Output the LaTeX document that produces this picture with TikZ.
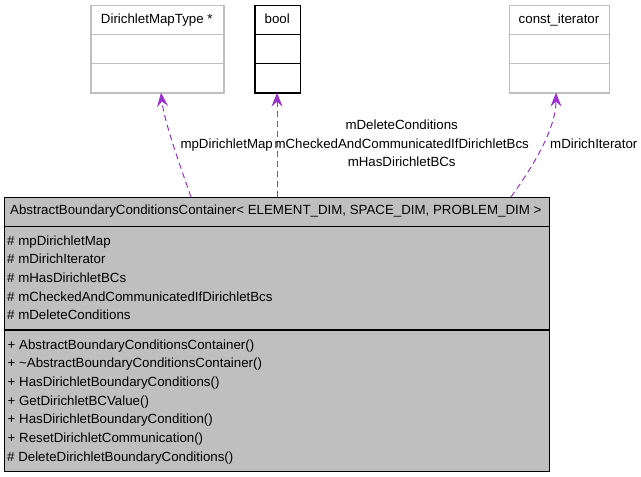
\documentclass[tikz,border=0pt]{standalone}
\usepackage{fontspec}
\setmainfont{Liberation Sans}
\usetikzlibrary{arrows.meta}
\definecolor{edgep}{HTML}{9A32CD}
\definecolor{fillgray}{HTML}{BFBFBF}
\definecolor{lightline}{HTML}{BFBFBF}
\begin{document}
\begin{tikzpicture}[x=1pt,y=-1pt,
  txt/.style={inner sep=0pt, font=\fontsize{13.3}{16}\selectfont},
  lightbox/.style={draw=lightline, line width=1.2pt, fill=white, inner sep=0pt, anchor=north west},
  darkbox/.style={draw=black, line width=1.4pt, fill=white, inner sep=0pt, anchor=north west},
  mainbox/.style={draw=black, line width=1.4pt, fill=fillgray, inner sep=0pt, anchor=north west},
  lightdiv/.style={draw=lightline, line width=1.2pt},
  darkdiv/.style={draw=black, line width=1.4pt},
  dep/.style={draw=edgep, line width=1pt, dash pattern=on 6pt off 4pt,
    -{Stealth[length=14pt, width=11pt, inset=5pt, sep=0pt]}}
]
\useasboundingbox (0,0) rectangle (641,477);

% --- top boxes ---
\node[lightbox, minimum width=133pt, minimum height=87.3pt] (dmt) at (90.3,5) {};
\draw[lightdiv] (90.3,34.3) -- (223.3,34.3);
\draw[lightdiv] (90.3,63.7) -- (223.3,63.7);
\node[txt, anchor=base] (dmtT) at (156.8,23.3) {DirichletMapType *};

\node[darkbox, minimum width=45.7pt, minimum height=87.3pt] (bool) at (254.3,5) {};
\draw[darkdiv] (254.3,34.3) -- (300,34.3);
\draw[darkdiv] (254.3,63.7) -- (300,63.7);
\node[txt, anchor=base] (boolT) at (277.2,23.3) {bool};

\node[lightbox, minimum width=100pt, minimum height=87.3pt] (cit) at (509,5) {};
\draw[lightdiv] (509,34.3) -- (609,34.3);
\draw[lightdiv] (509,63.7) -- (609,63.7);
\node[txt, anchor=base] (citT) at (559,23.3) {const\_iterator};

% --- main class box ---
\node[mainbox, minimum width=545pt, minimum height=274pt] (main) at (4,197) {};
\draw[darkdiv] (4,226.5) -- (549,226.5);
\draw[darkdiv] (4,330) -- (549,330);
\node[txt, anchor=base west] (title) at (10,214.5) {AbstractBoundaryConditionsContainer< ELEMENT\_DIM, SPACE\_DIM, PROBLEM\_DIM >};

\node[txt, anchor=base west] (a1) at (7,245) {\# mpDirichletMap};
\node[txt, anchor=base west] (a2) at (7,263.5) {\# mDirichIterator};
\node[txt, anchor=base west] (a3) at (7,282.3) {\# mHasDirichletBCs};
\node[txt, anchor=base west] (a4) at (7,301) {\# mCheckedAndCommunicatedIfDirichletBcs};
\node[txt, anchor=base west] (a5) at (7,319.8) {\# mDeleteConditions};

\node[txt, anchor=base west] (m1) at (7.5,349) {+ AbstractBoundaryConditionsContainer()};
\node[txt, anchor=base west] (m2) at (7.5,367.7) {+ \textasciitilde AbstractBoundaryConditionsContainer()};
\node[txt, anchor=base west] (m3) at (7.5,386.3) {+ HasDirichletBoundaryConditions()};
\node[txt, anchor=base west] (m4) at (7.5,405) {+ GetDirichletBCValue()};
\node[txt, anchor=base west] (m5) at (7.5,423.7) {+ HasDirichletBoundaryCondition()};
\node[txt, anchor=base west] (m6) at (7.5,442.3) {+ ResetDirichletCommunication()};
\node[txt, anchor=base west] (m7) at (7,461) {\# DeleteDirichletBoundaryConditions()};

% --- connector end points ---
\coordinate (s1) at (191,197);
\coordinate (t1) at (161,92.6);
\coordinate (s2) at (277,197);
\coordinate (t2) at (277,92.6);
\coordinate (s3) at (511,197);
\coordinate (t3) at (556,92.6);

\draw[dep] (s1) .. controls (178,160) and (164,120) .. (t1);
\draw[dep] (s2) -- (t2);
\draw[dep] (s3) .. controls (545,150) and (556,120) .. (t3);

% --- connector labels ---
\node[txt, anchor=base] (l1) at (226.7,148.3) {mpDirichletMap};
\node[txt, anchor=base] (l2a) at (401.7,129) {mDeleteConditions};
\node[txt, anchor=base] (l2b) at (401.7,148.3) {mCheckedAndCommunicatedIfDirichletBcs};
\node[txt, anchor=base] (l2c) at (401.7,166.7) {mHasDirichletBCs};
\node[txt, anchor=base] (l3) at (593.8,148.3) {mDirichIterator};
\end{tikzpicture}
\end{document}
